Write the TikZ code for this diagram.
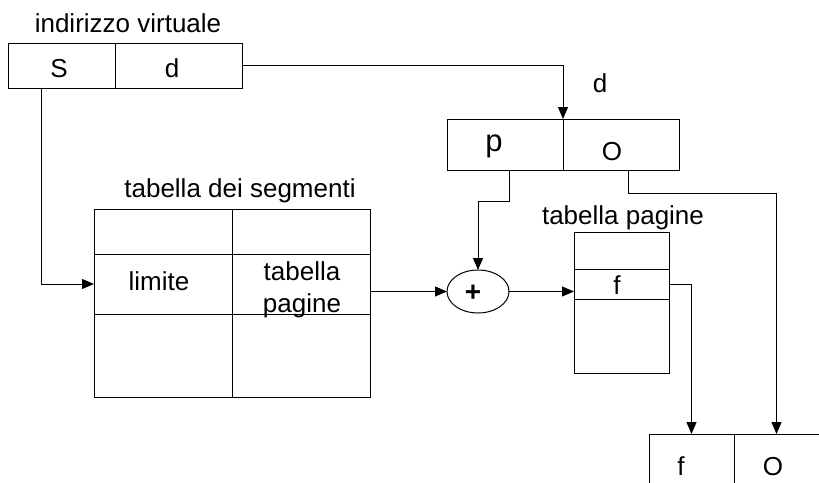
\documentclass[tikz,border=0pt]{standalone}
\usepackage{fontspec}
\setmainfont{Liberation Sans}
\usetikzlibrary{arrows.meta,shapes.geometric}
\begin{document}
\begin{tikzpicture}[x=1pt,y=-1pt,
  cell/.style={draw,line width=1pt,anchor=north west,inner sep=0pt,outer sep=0pt},
  txt/.style={anchor=base,inner sep=0pt,font=\fontsize{26}{32}\selectfont},
  arr/.style={line width=1pt,-{Triangle[length=12pt,width=10pt]}}]
\useasboundingbox (0,0) rectangle (819,482);
\clip (0,0) rectangle (819,482);
% top address box
\node[cell,minimum width=107,minimum height=45] (S) at (8,43) {};
\node[cell,minimum width=127,minimum height=45] (d) at (115,43) {};
% p|O box
\node[cell,minimum width=116,minimum height=51] (pp) at (447,119) {};
\node[cell,minimum width=116,minimum height=51] (pO) at (563,119) {};
% segment table
\node[cell,minimum width=138,minimum height=45] (seg11) at (94,209) {};
\node[cell,minimum width=138,minimum height=45] (seg12) at (232,209) {};
\node[cell,minimum width=138,minimum height=60] (seg21) at (94,254) {};
\node[cell,minimum width=138,minimum height=60] (seg22) at (232,254) {};
\node[cell,minimum width=138,minimum height=83] (seg31) at (94,314) {};
\node[cell,minimum width=138,minimum height=83] (seg32) at (232,314) {};
% adder
\node[draw,line width=1pt,ellipse,inner sep=0pt,outer sep=0pt,minimum width=62,minimum height=43] (plus) at (478,291.5) {};
% page table
\node[cell,minimum width=95,minimum height=37] (pt1) at (574,232) {};
\node[cell,minimum width=95,minimum height=30] (pf) at (574,269) {};
\node[cell,minimum width=95,minimum height=74] (pt3) at (574,299) {};
% physical address box
\node[cell,minimum width=85,minimum height=50] (bf) at (649,434) {};
\node[cell,minimum width=85,minimum height=50] (bO) at (734,434) {};
% texts
\node[txt] (t1) at (128,32) {indirizzo virtuale};
\node[txt] (tS) at (59,77) {S};
\node[txt] (td) at (172,77) {d};
\node[txt] (td2) at (600,92) {d};
\node[txt,font=\fontsize{31}{36}\selectfont] (tp) at (494,151) {p};
\node[txt] (tO) at (612,160) {O};
\node[txt,font=\fontsize{28}{32}\selectfont\bfseries] (tplus) at (473,301) {+};
\node[txt] (tseg) at (240,197) {tabella dei segmenti};
\node[txt] (tlim) at (159,290) {limite};
\node[txt] (ttab) at (302,280) {tabella};
\node[txt] (tpag) at (302,312) {pagine};
\node[txt] (ttp) at (623,224) {tabella pagine};
\node[txt] (tf) at (617,294) {f};
\node[txt] (tbf) at (681,475) {f};
\node[txt] (tbO) at (773,475) {O};
% connectors
\draw[arr] (d.east) -| (pp.north east);
\draw[arr] ([xshift=-20.5pt]S.south) |- (seg21.west);
\draw[arr] ([xshift=4pt]pp.south) -- ++(0,31) -| (plus.north);
\draw[arr] ([xshift=7pt]pO.south) -- ++(0,23) -| (bO.north);
\draw[arr] (seg22.east |- plus.west) -- (plus.west);
\draw[arr] (plus.east) -- (plus.east -| pf.west);
\draw[arr] (pf.east) -| (bf.north);
\end{tikzpicture}
\end{document}
